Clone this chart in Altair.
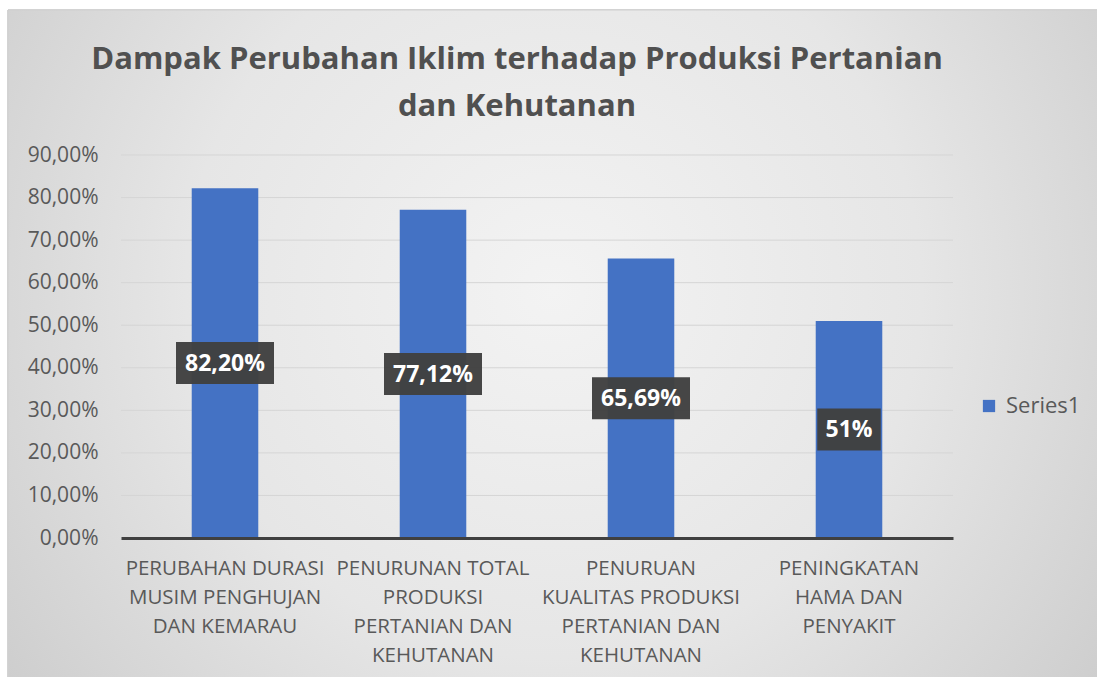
import altair as alt
import pandas as pd

categories = [
    "PERUBAHAN DURASI\nMUSIM PENGHUJAN\nDAN KEMARAU",
    "PENURUNAN TOTAL\nPRODUKSI\nPERTANIAN DAN\nKEHUTANAN",
    "PENURUAN\nKUALITAS PRODUKSI\nPERTANIAN DAN\nKEHUTANAN",
    "PENINGKATAN\nHAMA DAN\nPENYAKIT",
]
values = [0.8220, 0.7712, 0.6569, 0.51]
labels = ["82,20%", "77,12%", "65,69%", "51%"]
series = "Series1"
y_ticks = [0.0, 0.1, 0.2, 0.3, 0.4, 0.5, 0.6, 0.7, 0.8, 0.9]
title_lines = ["Dampak Perubahan Iklim terhadap Produksi Pertanian", "dan Kehutanan"]

W, H = 832, 383
PAD_L, PAD_T = 121, 155
FONT = "Open Sans"
BLUE = "#4472C4"
TXT = "#595959"

df = pd.DataFrame({"cat": categories, "val": values, "lab": labels, "series": series})
df["mid"] = df["val"] / 2
half = 21 / (H / 0.9)
df["lo"] = df["mid"] - half
df["hi"] = df["mid"] + half
df["bw"] = df["lab"].str.len() * 11.5 + 29

ticks_df = pd.DataFrame({"t": y_ticks[1:]})

xenc = alt.X("cat:N", sort=categories, title=None,
             scale=alt.Scale(paddingInner=0.68, paddingOuter=0.34),
             axis=alt.Axis(labelAngle=0, labelExpr="split(datum.label, '\\n')",
                           labelFont=FONT, labelFontSize=20.5, labelColor=TXT,
                           labelLineHeight=29, labelPadding=20, labelLimit=0,
                           labelBaseline="top",
                           ticks=False, domainColor="#404040", domainWidth=3,
                           grid=False, zindex=1))
yscale = alt.Scale(domain=[0, 0.9], nice=False)

bg = alt.Chart(df).mark_rect(
    clip=False,
    fill={"gradient": "radial", "x1": 0.5, "y1": 0.45, "r1": 0.0,
          "x2": 0.5, "y2": 0.45, "r2": 0.75,
          "stops": [{"offset": 0, "color": "#f3f3f3"},
                    {"offset": 0.45, "color": "#e6e6e6"},
                    {"offset": 1, "color": "#c2c2c2"}]},
    stroke="#d0d0d0", strokeWidth=1,
).encode(
    x=alt.value(8 - PAD_L), x2=alt.value(1097 - PAD_L + 2),
    y=alt.value(10 - PAD_T), y2=alt.value(677 - PAD_T + 2),
)

grid = alt.Chart(ticks_df).mark_rule(color="#d5d5d5", strokeWidth=1).encode(
    y=alt.Y("t:Q", scale=yscale)
)

bars = alt.Chart(df).mark_bar(color=BLUE).encode(
    x=xenc,
    y=alt.Y("val:Q", scale=yscale, title=None,
            axis=alt.Axis(values=y_ticks, labelExpr="replace(format(datum.value, '.2%'), '.', ',')",
                          labelFont=FONT, labelFontSize=21, labelColor=TXT,
                          labelPadding=23, domain=False, ticks=False, grid=False, zindex=1)),
    color=alt.Color("series:N", scale=alt.Scale(range=[BLUE]),
                    legend=alt.Legend(title=None, orient="none", legendX=857, legendY=240,
                                      symbolType="square", symbolSize=150, symbolStrokeWidth=0,
                                      labelFont=FONT, labelFontSize=22, labelColor=TXT,
                                      labelOffset=6)),
)

boxes = alt.Chart(df).mark_bar(color="#404040", opacity=0.97).encode(
    x=alt.X("cat:N", sort=categories),
    y=alt.Y("lo:Q", scale=yscale),
    y2="hi:Q",
    size=alt.Size("bw:Q", scale=None, legend=None),
)

texts = alt.Chart(df).mark_text(font=FONT, fontSize=23, fontWeight="bold", color="white",
                                baseline="middle", align="center", dy=1).encode(
    x=alt.X("cat:N", sort=categories),
    y=alt.Y("mid:Q", scale=yscale),
    text="lab:N",
)

chart = alt.layer(bg, grid, bars, boxes, texts).properties(
    width=W, height=H,
    title=alt.TitleParams(title_lines, font=FONT, fontSize=31, fontWeight="bold",
                          color="#505050", anchor="middle", dx=-20, lineHeight=47,
                          offset=0, dy=113),
    autosize=alt.AutoSizeParams(type="none"),
    padding={"left": PAD_L, "top": PAD_T, "right": 1097 - PAD_L - W, "bottom": 677 - PAD_T - H},
    background="white",
).configure_view(stroke=None)

chart.save("out.html", embed_options={"renderer": "svg", "actions": False})
